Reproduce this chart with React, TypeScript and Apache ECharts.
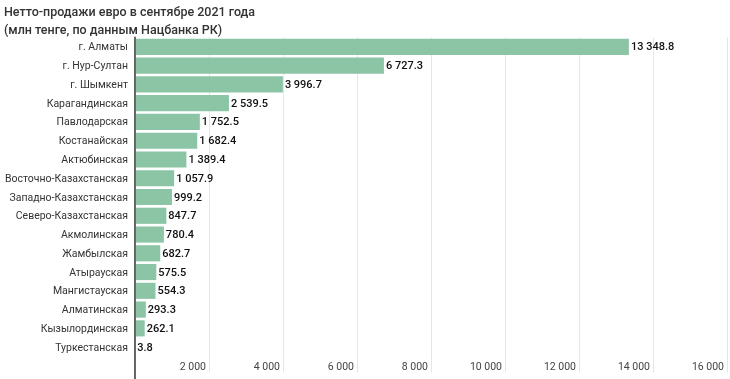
import React, { useEffect, useRef } from "react";
import * as echarts from "echarts";

const categories = [
  "г. Алматы",
  "г. Нур-Султан",
  "г. Шымкент",
  "Карагандинская",
  "Павлодарская",
  "Костанайская",
  "Актюбинская",
  "Восточно-Казахстанская",
  "Западно-Казахстанская",
  "Северо-Казахстанская",
  "Акмолинская",
  "Жамбылская",
  "Атырауская",
  "Мангистауская",
  "Алматинская",
  "Кызылординская",
  "Туркестанская",
];

const values = [
  13348.8, 6727.3, 3996.7, 2539.5, 1752.5, 1682.4, 1389.4, 1057.9, 999.2, 847.7,
  780.4, 682.7, 575.5, 554.3, 293.3, 262.1, 3.8,
];

const titleLines = [
  "Нетто-продажи евро в сентябре 2021 года",
  "(млн тенге, по данным Нацбанка РК)",
];

const axisMax = 16000;
const axisInterval = 2000;

function groupThousands(intStr: string): string {
  return intStr.replace(/\B(?=(\d{3})+(?!\d))/g, " ");
}

function formatValue(v: number): string {
  const [i, d] = v.toFixed(1).split(".");
  return groupThousands(i) + "." + d;
}

export default function App() {
  const ref = useRef<HTMLDivElement>(null);

  useEffect(() => {
    if (!ref.current) return;
    const chart = echarts.init(ref.current, null, { renderer: "svg" });
    const font = "Roboto, 'Noto Sans', sans-serif";
    chart.setOption({
      animation: false,
      textStyle: { fontFamily: font },
      title: {
        text: titleLines.join("\n"),
        left: 4,
        top: 2,
        padding: 0,
        textStyle: {
          fontFamily: font,
          fontSize: 12.5,
          fontWeight: 500,
          color: "#333333",
          lineHeight: 18,
        },
      },
      grid: {
        left: 135,
        right: 3,
        top: 37.5,
        bottom: 22.5,
        containLabel: false,
        outerBoundsMode: "none",
      },
      xAxis: {
        type: "value",
        min: 0,
        max: axisMax,
        interval: axisInterval,
        axisLine: { show: false },
        axisTick: {
          show: true,
          length: 16,
          lineStyle: { color: "#e6e6e6", width: 1 },
        },
        splitLine: { show: true, lineStyle: { color: "#e6e6e6", width: 1 } },
        axisLabel: {
          fontFamily: font,
          fontSize: 10.5,
          color: "#444444",
          align: "right",
          margin: 4,
          padding: [0, 3, 0, 0],
          formatter: (v: number) => (v === 0 ? "" : groupThousands(String(v))),
        },
      },
      yAxis: {
        type: "category",
        data: categories,
        inverse: true,
        z: 5,
        axisLine: { show: true, lineStyle: { color: "#666666", width: 2 } },
        axisTick: { show: false },
        axisLabel: {
          fontFamily: font,
          fontSize: 10.5,
          color: "#333333",
          margin: 7,
        },
      },
      graphic: [
        {
          type: "line",
          shape: { x1: 135, y1: 356, x2: 135, y2: 379 },
          style: { stroke: "#666666", lineWidth: 2 },
          z: 10,
        },
      ],
      series: [
        {
          type: "bar",
          data: values,
          barCategoryGap: "14%",
          itemStyle: { color: "#8cc5a6" },
          label: {
            show: true,
            position: "right",
            distance: 2,
            fontFamily: font,
            fontSize: 11,
            fontWeight: 500,
            color: "#111111",
            formatter: (p: any) => formatValue(p.value),
          },
        },
      ],
    });
    return () => chart.dispose();
  }, []);

  return (
    <div
      ref={ref}
      style={{ position: "fixed", left: 0, top: 0, width: 730, height: 379 }}
    />
  );
}
